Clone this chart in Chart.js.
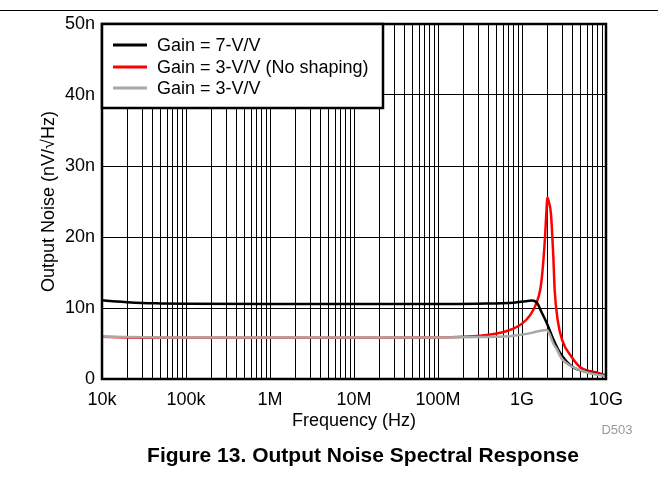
<!DOCTYPE html>
<html><head><meta charset="utf-8">
<script src="https://cdn.jsdelivr.net/npm/chart.js@4/dist/chart.umd.min.js"></script>
<style>html,body{margin:0;padding:0;background:#fff}#wrap{width:663px;height:478px;position:relative}</style>
</head><body><div id="wrap"><canvas id="c" width="663" height="478"></canvas></div>
<script>
// ---------- data ----------
const seriesLabels = ['Gain = 7-V/V', 'Gain = 3-V/V (No shaping)', 'Gain = 3-V/V'];
const seriesColors = ['#000000', '#ff0000', '#a8a8a8'];

const gain7Freq  = [1e4, 1.5e4, 2e4, 3e4, 5e4, 1e5, 1e6, 1e7, 1e8, 3e8, 8e8, 1.1e9, 1.3e9, 1.45e9, 1.55e9, 1.65e9, 1.97e9, 2.36e9, 2.83e9, 3.9e9, 6.45e9, 1e10];
const gain7Noise = [11.1, 10.9, 10.8, 10.7, 10.65, 10.6, 10.55, 10.55, 10.55, 10.6, 10.75, 10.95, 11.05, 10.9, 10.5, 9.8, 7.9, 5.6, 3.7, 1.8, 0.9, 0.45];

const noShapeFreq  = [1e4, 2e4, 5e4, 1e6, 1e7, 1e8, 2e8, 3.2e8, 5e8, 7.9e8, 1e9, 1.25e9, 1.5e9, 1.65e9, 1.72e9, 1.8e9, 1.88e9, 1.95e9, 2.0e9, 2.1e9, 2.21e9, 2.36e9, 2.45e9, 2.66e9, 3.0e9, 3.9e9, 4.9e9, 8.4e9, 1e10];
const noShapeNoise = [5.95, 5.85, 5.8, 5.8, 5.8, 5.85, 5.95, 6.1, 6.4, 7.1, 7.8, 9.0, 10.8, 12.6, 14.2, 16.8, 20.0, 23.5, 25.6, 24.8, 23.3, 17.2, 12.5, 8.3, 5.5, 3.1, 1.7, 0.8, 0.5];

const gain3Freq  = [1e4, 2e4, 5e4, 1e5, 1e6, 1e7, 1e8, 3e8, 6e8, 8e8, 1e9, 1.3e9, 1.6e9, 1.97e9, 2.15e9, 2.36e9, 2.59e9, 2.83e9, 3.0e9, 3.7e9, 4.9e9, 6.5e9, 1e10];
const gain3Noise = [6.0, 5.9, 5.85, 5.85, 5.85, 5.85, 5.85, 5.9, 6.0, 6.1, 6.25, 6.5, 6.75, 6.9, 6.2, 5.0, 4.2, 3.3, 2.8, 1.9, 1.27, 0.8, 0.4];

const xTickLabels = ['10k', '100k', '1M', '10M', '100M', '1G', '10G'];
const yTickLabels = ['0', '10n', '20n', '30n', '40n', '50n'];

const xTitle = 'Frequency (Hz)';
const yTitle = 'Output Noise (nV/\u221AHz)';
const figureCaption = 'Figure 13. Output Noise Spectral Response';
const figureCode = 'D503';

// ---------- chart ----------
const FONT = 'Liberation Sans, Arial, Helvetica, sans-serif';
const toPts = (fs, vs) => fs.map((f, i) => ({x: f, y: vs[i]}));

const gridValues = [];
for (let e = 4; e < 10; e++) for (let m = 1; m <= 9; m++) gridValues.push(m * Math.pow(10, e));
gridValues.push(1e10);

const decorPlugin = {
  id: 'decor',
  afterDatasetsDraw(chart) {
    const {ctx, chartArea: a} = chart;
    ctx.save();
    // plot frame
    ctx.strokeStyle = '#000';
    ctx.lineWidth = 2.5;
    ctx.strokeRect(a.left, a.top, a.right - a.left, a.bottom - a.top);
    // legend box
    const lx = a.left, ly = a.top, lw = 281, lh = 84;
    ctx.fillStyle = '#fff';
    ctx.fillRect(lx, ly, lw, lh);
    ctx.lineWidth = 2.5;
    ctx.strokeRect(lx, ly, lw, lh);
    ctx.font = '18px ' + FONT;
    ctx.textBaseline = 'middle';
    ctx.textAlign = 'left';
    const rows = [45, 67, 88];
    seriesLabels.forEach((lab, i) => {
      ctx.strokeStyle = seriesColors[i];
      ctx.lineWidth = 3;
      ctx.beginPath();
      ctx.moveTo(113, rows[i]);
      ctx.lineTo(147, rows[i]);
      ctx.stroke();
      ctx.fillStyle = '#000';
      ctx.fillText(lab, 157, rows[i] + 1);
    });
    ctx.restore();
  },
  afterDraw(chart) {
    const {ctx} = chart;
    ctx.save();
    ctx.strokeStyle = '#000';
    ctx.lineWidth = 1.2;
    ctx.beginPath();
    ctx.moveTo(0, 10.5);
    ctx.lineTo(658, 10.5);
    ctx.stroke();
    ctx.fillStyle = '#999';
    ctx.font = '13px ' + FONT;
    ctx.textAlign = 'center';
    ctx.textBaseline = 'middle';
    ctx.fillText(figureCode, 617, 430);
    ctx.fillStyle = '#000';
    ctx.font = 'bold 21px ' + FONT;
    ctx.fillText(figureCaption, 363, 456);
    ctx.restore();
  }
};

new Chart(document.getElementById('c'), {
  type: 'line',
  data: {
    datasets: [
      {label: seriesLabels[0], data: toPts(gain7Freq, gain7Noise), borderColor: seriesColors[0], order: 1},
      {label: seriesLabels[1], data: toPts(noShapeFreq, noShapeNoise), borderColor: seriesColors[1], order: 2},
      {label: seriesLabels[2], data: toPts(gain3Freq, gain3Noise), borderColor: seriesColors[2], order: 0}
    ].map(d => Object.assign(d, {borderWidth: 2.5, pointRadius: 0, fill: false, cubicInterpolationMode: 'monotone'}))
  },
  options: {
    responsive: false,
    animation: false,
    devicePixelRatio: 1,
    layout: {padding: {top: 24, right: 57, left: 0, bottom: 0}},
    plugins: {legend: {display: false}, tooltip: {enabled: false}},
    scales: {
      x: {
        type: 'logarithmic', min: 1e4, max: 1e10,
        afterBuildTicks: s => { s.ticks = gridValues.map(v => ({value: v})); },
        afterFit: s => { s.height = 99; },
        ticks: {
          autoSkip: false, maxRotation: 0, minRotation: 0, padding: 10, color: '#000',
          font: {family: FONT, size: 18},
          callback: v => {
            const e = Math.log10(v);
            return Math.abs(e - Math.round(e)) < 1e-9 ? xTickLabels[Math.round(e) - 4] : '';
          }
        },
        grid: {color: '#000', lineWidth: 1, drawTicks: false},
        border: {display: false},
        title: {display: true, text: xTitle, color: '#000', font: {family: FONT, size: 18}, padding: {top: 0, bottom: 46}}
      },
      y: {
        min: 0, max: 50,
        afterFit: s => { s.width = 102; },
        ticks: {stepSize: 10, padding: 7, color: '#000', font: {family: FONT, size: 18},
          callback: v => yTickLabels[Math.round(v / 10)]},
        grid: {color: '#000', lineWidth: 1, drawTicks: false},
        border: {display: false},
        title: {display: true, text: yTitle, color: '#000', font: {family: FONT, size: 18}, padding: {top: 38, bottom: 0}}
      }
    }
  },
  plugins: [decorPlugin]
});
</script></body></html>
